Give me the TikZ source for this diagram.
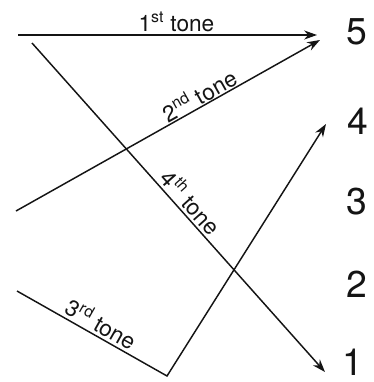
\documentclass[tikz,border=0pt]{standalone}
\usepackage{fontspec}
\setmainfont{TeX Gyre Heros}
\usetikzlibrary{arrows.meta}
\definecolor{ink}{RGB}{20,20,20}
\tikzset{
  >={Stealth[length=3.4mm,width=2.4mm]},
  contour/.style={->,line width=1.1pt,draw=ink},
  contour/.default=ink,
  tonelabel/.style={font=\fontsize{17}{20}\selectfont,text=ink,inner sep=2pt},
  level/.style={font=\fontsize{28}{30}\selectfont,text=ink,inner sep=0pt},
}

\begin{document}
\begin{tikzpicture}[x=0.75pt,y=-0.75pt]
        \useasboundingbox (0,0) rectangle (374,382);
        % ends of the pitch contours
        \coordinate (first a) at (18,35);
        \coordinate (first b) at (317,35);
        \coordinate (second a) at (16,211);
        \coordinate (second b) at (320,40);
        \coordinate (third a) at (17,291);
        \coordinate (third low) at (167,376);
        \coordinate (third b) at (326,124);
        \coordinate (fourth a) at (32,43);
        \coordinate (fourth b) at (325,372);
        % pitch scale
        \node[level] (five) at (357,32) {5};
        \node[level] (four) at (358,121) {4};
        \node[level] (three) at (357,202) {3};
        \node[level] (two) at (357,284) {2};
        \node[level] (one) at (353,362) {1};
        % contours
        \draw[contour] (first a) -- node[tonelabel,above,pos=0.53] (first lab) {1\textsuperscript{st} tone} (first b);
        \draw[contour] (second a) -- node[tonelabel,above,sloped,pos=0.62,inner sep=0.5pt] (second lab) {2\textsuperscript{nd} tone} (second b);
        \draw[contour] (third a) -- node[tonelabel,above,sloped,pos=0.52] (third lab) {3\textsuperscript{rd} tone} (third low) -- (third b);
        \draw[contour] (fourth a) -- node[tonelabel,above,sloped,pos=0.51] (fourth lab) {4\textsuperscript{th} tone} (fourth b);
      \end{tikzpicture}
\end{document}
